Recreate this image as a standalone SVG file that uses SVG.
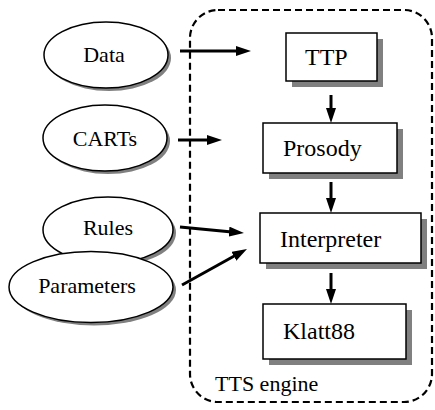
<svg xmlns="http://www.w3.org/2000/svg" width="435" height="410" viewBox="0 0 435 410">
<defs>
<style>
.ell{fill:#fff;stroke:#000;stroke-width:1.5}
.esh{fill:#808080;stroke:none}
.box{fill:#fff;stroke:#000;stroke-width:1.5}
.bsh{fill:#808080;stroke:none}
.lbl{font-family:"Liberation Serif","Times New Roman",serif;font-size:22px;fill:#000}
.blbl{font-family:"Liberation Serif","Times New Roman",serif;font-size:24px;fill:#000}
.arr{stroke:#000;stroke-width:3;fill:none;marker-end:url(#ah)}
</style>
<marker id="ah" markerUnits="userSpaceOnUse" markerWidth="15" markerHeight="10" refX="3" refY="5" orient="auto">
<path d="M0,0 L15,5 L0,10 z" fill="#000"/>
</marker>
</defs>
<rect width="435" height="410" fill="#fff"/>
<g id="engine">
<rect x="190" y="10" width="242" height="392" rx="28" ry="28" fill="none" stroke="#000" stroke-width="2.2" stroke-dasharray="7,4"/>
<text class="lbl" x="215" y="391">TTS engine</text>
</g>
<g id="data">
<ellipse class="esh" cx="109" cy="58" rx="62" ry="33"/>
<ellipse class="ell" cx="106" cy="55" rx="62" ry="33"/>
<text class="lbl" x="104" y="62" text-anchor="middle">Data</text>
</g>
<g id="carts">
<ellipse class="esh" cx="108" cy="141" rx="62" ry="33"/>
<ellipse class="ell" cx="105" cy="138" rx="62" ry="33"/>
<text class="lbl" x="105" y="146" text-anchor="middle">CARTs</text>
</g>
<g id="rules">
<ellipse class="esh" cx="111" cy="233" rx="65" ry="33"/>
<ellipse class="ell" cx="108" cy="230" rx="65" ry="33"/>
<text class="lbl" x="108" y="235" text-anchor="middle">Rules</text>
</g>
<g id="parameters">
<ellipse class="esh" cx="94" cy="290" rx="82" ry="35.5"/>
<ellipse class="ell" cx="91" cy="287" rx="82" ry="35.5"/>
<text class="lbl" x="87" y="293" text-anchor="middle">Parameters</text>
</g>
<g id="ttp">
<rect class="bsh" x="292" y="39" width="91" height="48"/>
<rect class="box" x="286" y="33" width="91" height="48"/>
<text class="blbl" x="305" y="65">TTP</text>
</g>
<g id="prosody">
<rect class="bsh" x="269" y="129" width="134" height="50"/>
<rect class="box" x="263" y="123" width="134" height="50"/>
<text class="blbl" x="283" y="156">Prosody</text>
</g>
<g id="interpreter">
<rect class="bsh" x="266" y="219" width="161" height="50"/>
<rect class="box" x="260" y="213" width="161" height="50"/>
<text class="blbl" x="280" y="247">Interpreter</text>
</g>
<g id="klatt88">
<rect class="bsh" x="269" y="310" width="143" height="55"/>
<rect class="box" x="263" y="304" width="143" height="55"/>
<text class="blbl" x="283" y="339">Klatt88</text>
</g>
<g id="connectors">
<line class="arr" x1="180" y1="51" x2="239" y2="51"/>
<line class="arr" x1="178" y1="140" x2="210" y2="140"/>
<line class="arr" x1="180" y1="227" x2="232" y2="231.9"/>
<line class="arr" x1="182" y1="285" x2="236.5" y2="254.8"/>
<line class="arr" x1="331" y1="95" x2="331" y2="111"/>
<line class="arr" x1="331" y1="182" x2="331" y2="201"/>
<line class="arr" x1="331" y1="273" x2="331" y2="292"/>
</g>
</svg>
